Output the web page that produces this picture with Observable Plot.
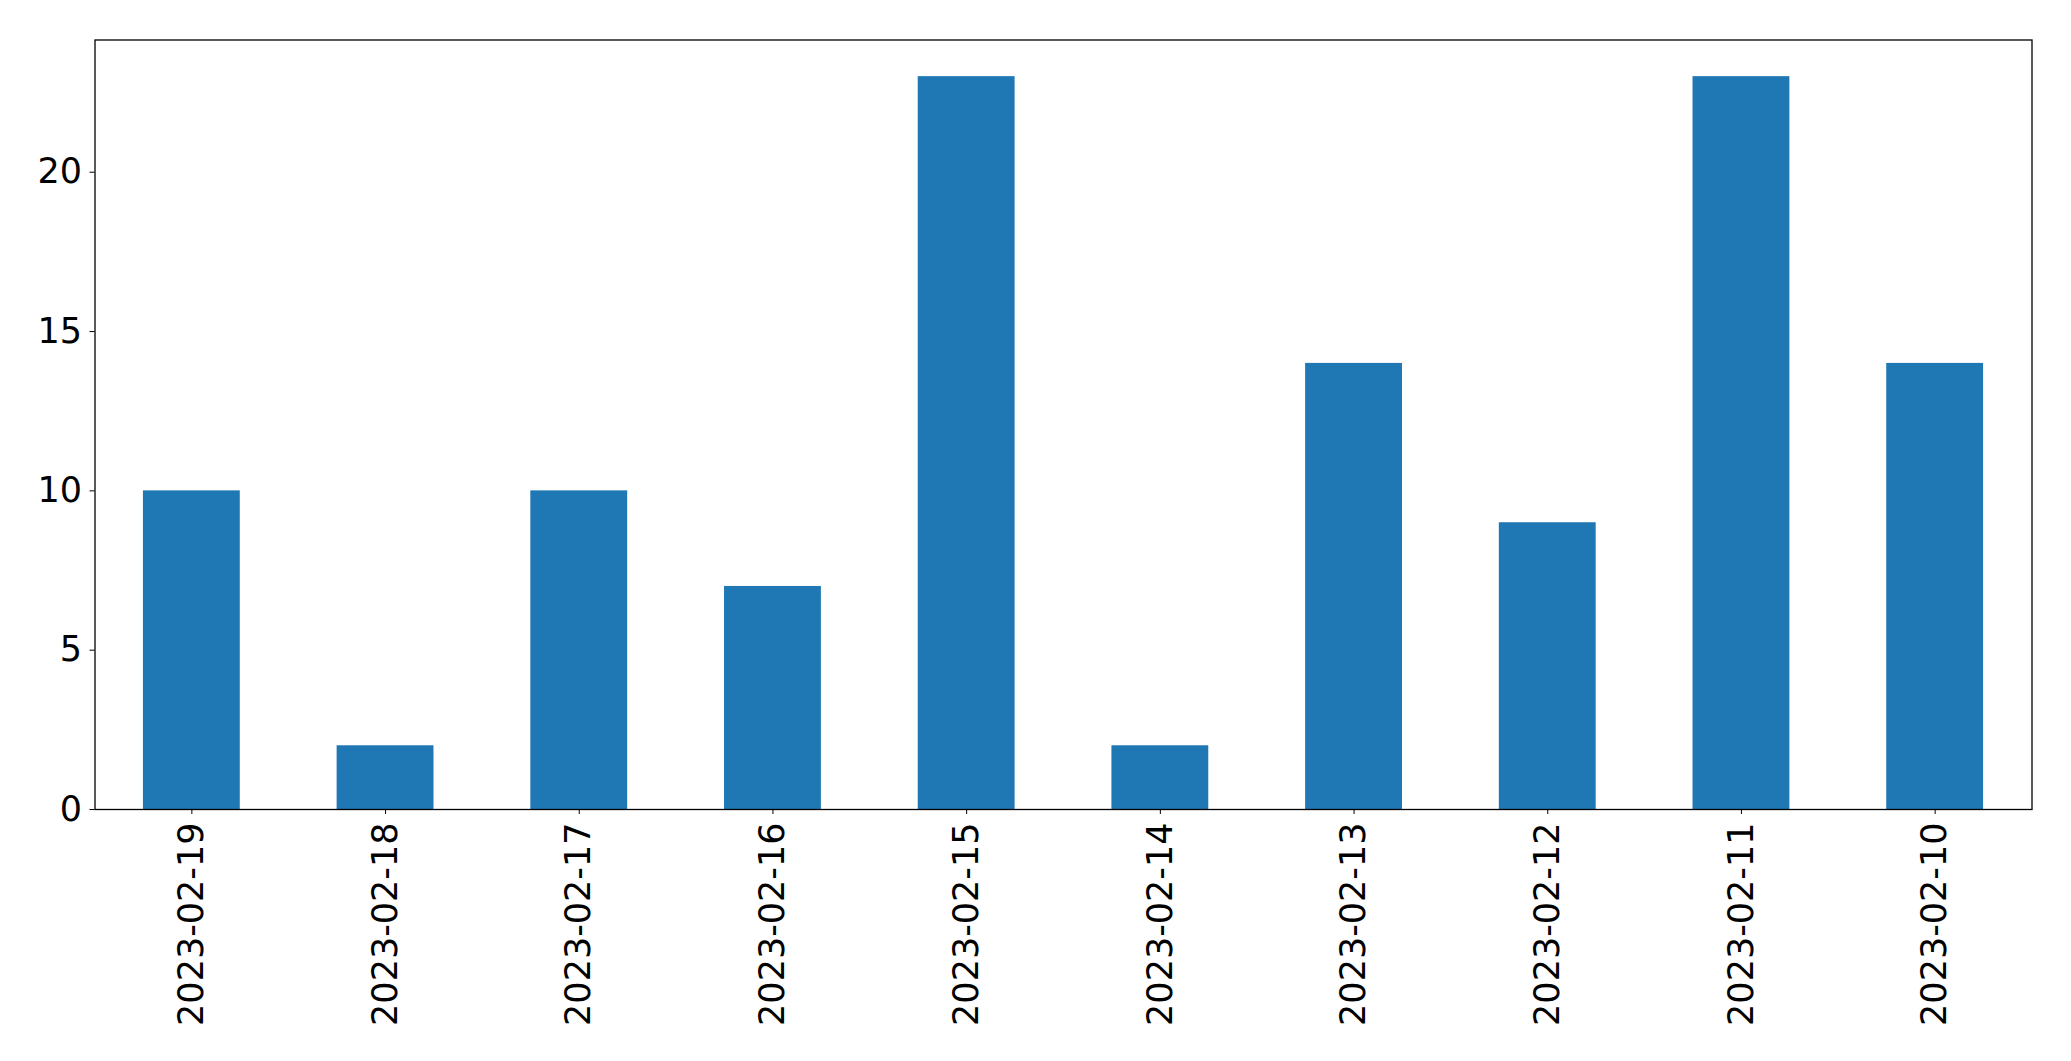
<!DOCTYPE html>
<html>
<head>
<meta charset="utf-8">
<script src="https://cdn.jsdelivr.net/npm/d3@7"></script>
<script src="https://cdn.jsdelivr.net/npm/@observablehq/plot@0.6"></script>
<style>
  html, body { margin: 0; padding: 0; background: #fff; }
  svg { display: block; }
</style>
</head>
<body>
<div id="chart"></div>
<script>
const dates = ["2023-02-19","2023-02-18","2023-02-17","2023-02-16","2023-02-15","2023-02-14","2023-02-13","2023-02-12","2023-02-11","2023-02-10"];
const counts = [10, 2, 10, 7, 23, 2, 14, 9, 23, 14];
const yTicks = [0, 5, 10, 15, 20];

const data = dates.map((d, i) => ({date: d, count: counts[i]}));

const chart = Plot.plot({
  width: 2071,
  height: 1061,
  marginLeft: 94.5,
  marginRight: 39.5,
  marginTop: 39.5,
  marginBottom: 252,
  style: {fontFamily: "'DejaVu Sans', sans-serif", fontSize: "35px", background: "#fff", color: "#000"},
  x: {type: "band", domain: dates, paddingInner: 0.5, paddingOuter: 0.25, align: 0.5, round: false},
  y: {domain: [0, 24.15]},
  marks: [
    Plot.barY(data, {x: "date", y: "count", fill: "#1f77b4"}),
    Plot.frame({stroke: "#000", strokeWidth: 1.3}),
    Plot.axisY({ticks: yTicks, tickSize: 5, tickPadding: 8, fontSize: 35, label: null, stroke: "#000", strokeOpacity: 1}),
    Plot.axisX({tickSize: 5, tickPadding: 8, tickRotate: -90, fontSize: 35, label: null, stroke: "#000", strokeOpacity: 1})
  ]
});
document.getElementById("chart").appendChild(chart);
</script>
</body>
</html>
